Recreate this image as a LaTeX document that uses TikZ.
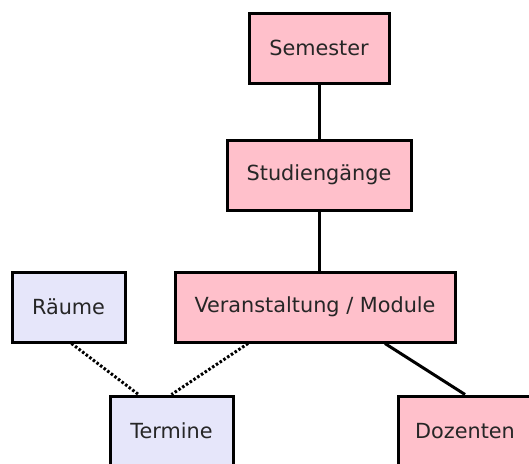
\documentclass[tikz,border=0pt]{standalone}
\usepackage{fontspec}
\setmainfont{DejaVu Sans}
\usepackage{xcolor}
\usepackage{tikz}
\definecolor{rosa}{HTML}{FFC0CB}
\definecolor{lila}{HTML}{E6E6FA}
\tikzset{box/.style={rectangle,draw,line width=3pt,minimum height=70pt,inner sep=0pt,font=\fontsize{20.8}{24}\selectfont,text=black!85}}
\tikzset{ent/.style={box,fill=rosa}}
\tikzset{res/.style={box,fill=lila}}
\tikzset{rel/.style={line width=3pt}}
\tikzset{lose/.style={line width=3pt,dash pattern=on 2.5pt off 2pt,line cap=butt}}

\begin{document}
\begin{tikzpicture}[x=1pt,y=-1pt]
    \useasboundingbox (0,0) rectangle (529,463);
    \clip (0,0) rectangle (529,463);

    \node[ent,minimum width=140pt] (sem) at (319,48) {Semester};
    \node[ent,minimum width=184pt] (stg) at (319,175) {Studiengänge};
    \node[ent,minimum width=280pt] (ver) at (315,307) {Veranstaltung / Module};
    \node[res,minimum width=113pt] (raum) at (68.5,307) {Räume};
    \node[res,minimum width=123pt] (term) at (171.5,431) {Termine};
    \node[ent,minimum width=134pt] (doz) at (465,431) {Dozenten};

    \draw [rel] (sem.south) to [] (stg.north);
    \draw [rel] (stg.south) to [] (stg.south |- ver.north);
    \draw [lose] ([xshift=3pt]raum.south) to [] ([xshift=30pt]term.north west);
    \draw [lose] ([xshift=-67pt]ver.south) to [] (term.north);
    \draw [rel] ([xshift=70pt]ver.south) to [] (doz.north);
\end{tikzpicture}
\end{document}
